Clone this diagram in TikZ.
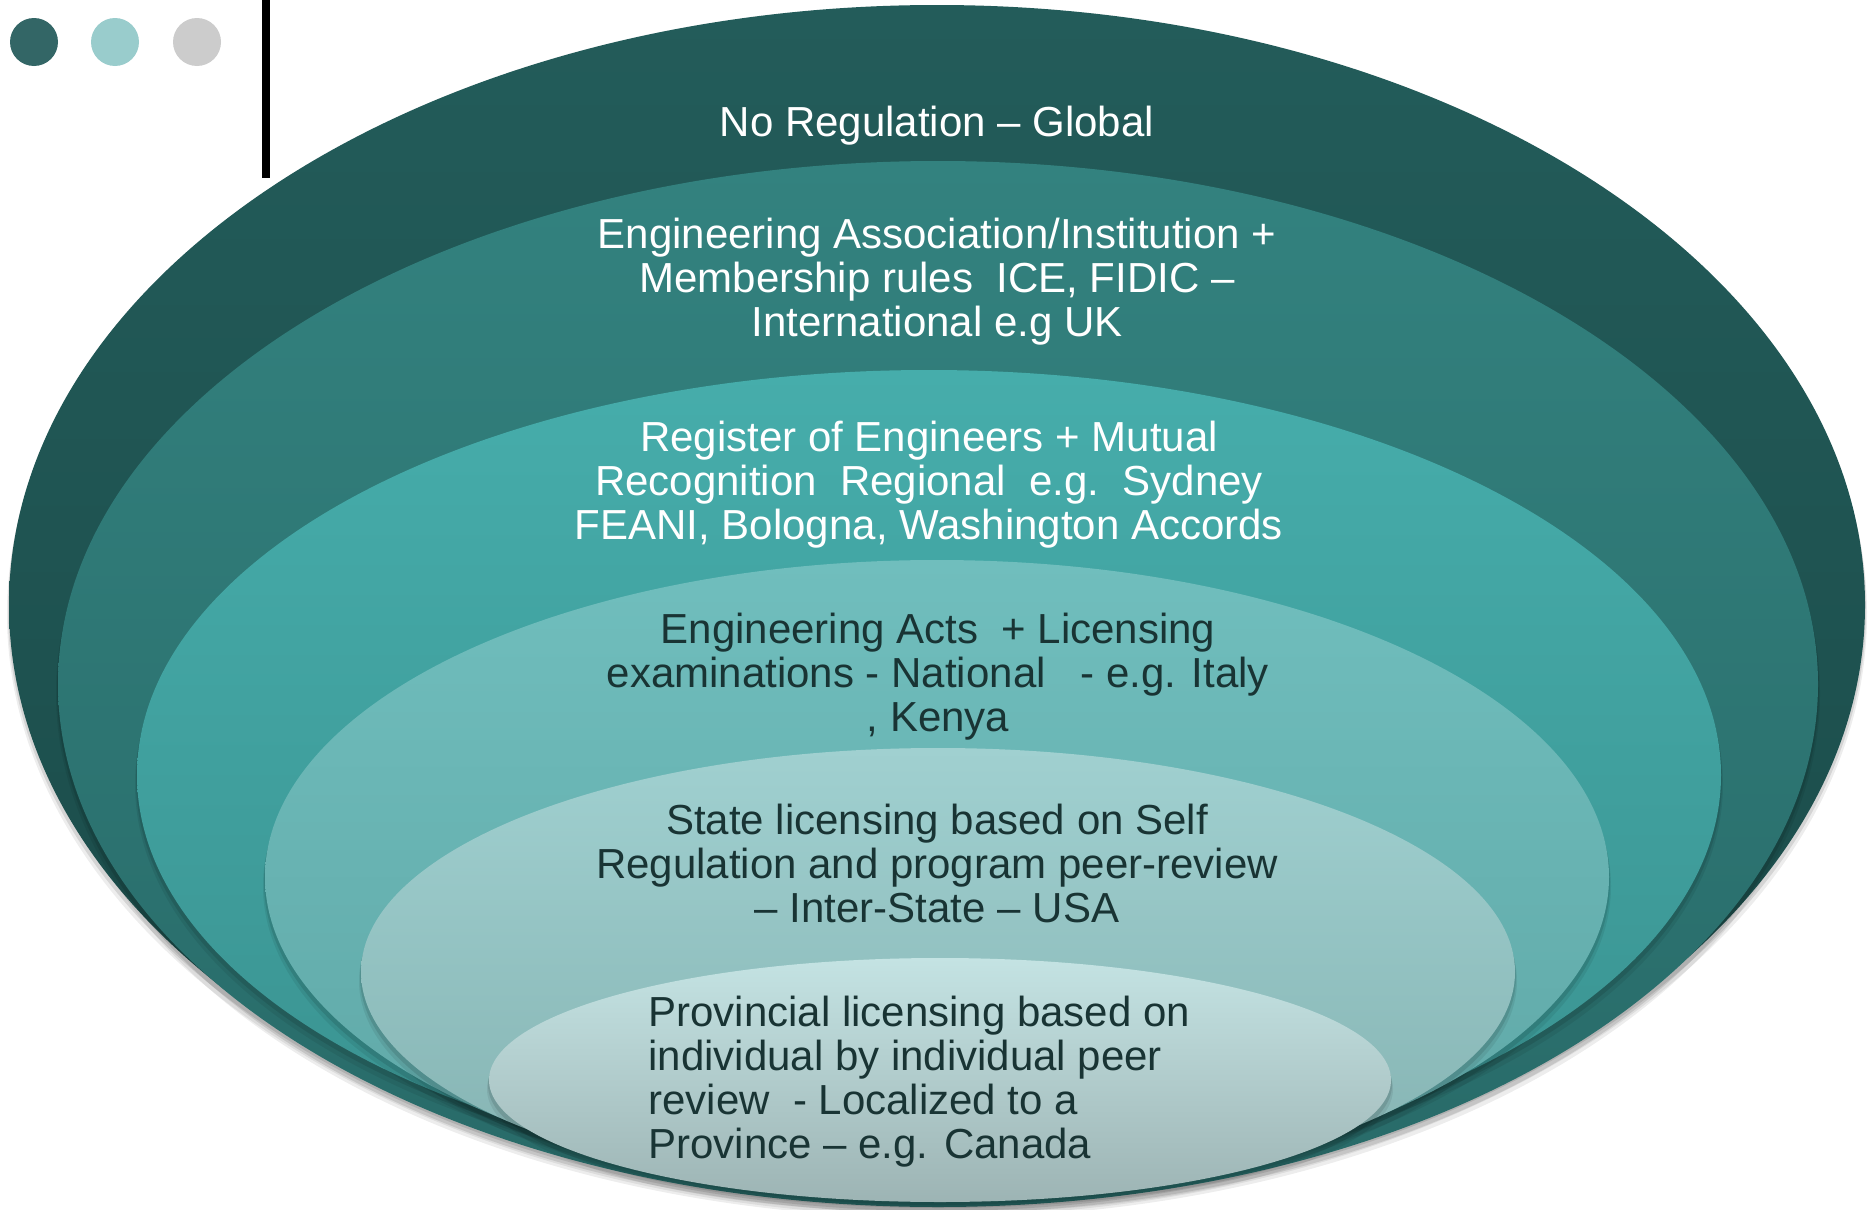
\documentclass[tikz,border=0pt]{standalone}
\usepackage{fontspec}
\setmainfont{Liberation Sans}
\definecolor{dotA}{HTML}{336666}
\definecolor{dotB}{HTML}{99CCCC}
\definecolor{dotC}{HTML}{CCCCCC}
\definecolor{txtdark}{HTML}{193434}
\definecolor{e1t}{HTML}{235C5A}
\definecolor{e1b}{HTML}{1A4A48}
\definecolor{e2t}{HTML}{33827F}
\definecolor{e2b}{HTML}{286A68}
\definecolor{e3t}{HTML}{46ADAB}
\definecolor{e3b}{HTML}{3A9290}
\definecolor{e4t}{HTML}{70BEBD}
\definecolor{e4b}{HTML}{5FA7A6}
\definecolor{e5t}{HTML}{A0D0D0}
\definecolor{e5b}{HTML}{84B2B1}
\definecolor{e6t}{HTML}{C4E3E3}
\definecolor{e6b}{HTML}{9DB4B4}
\tikzset{
  lbl/.style={align=center, font=\fontsize{21}{22}\selectfont, inner sep=0pt},
  lblw/.style={lbl, text=white},
  lbld/.style={lbl, text=txtdark},
  dot/.style={circle, minimum size=24pt, inner sep=0pt},
}
\newcommand{\shellipse}[7]{%
  \fill[black, opacity=0.07] (#1,#2+9) ellipse [x radius=#3+2, y radius=#4+2];
  \fill[black, opacity=0.10] (#1,#2+5) ellipse [x radius=#3+1, y radius=#4+1];
  \shade[top color=#5, bottom color=#6] (#1,#2) ellipse [x radius=#3, y radius=#4];
  \coordinate (#7) at (#1,#2);
}
\begin{document}
\begin{tikzpicture}[x=0.5pt, y=-0.5pt]
\useasboundingbox (0,0) rectangle (1870,1210);
\fill[white] (0,0) rectangle (1870,1210);
\begin{scope}
\clip (0,0) rectangle (1870,1210);
\shellipse{937}{605}{928}{600}{e1t}{e1b}{c1}
\shellipse{938}{684}{880}{523}{e2t}{e2b}{c2}
\shellipse{929}{775}{792}{405}{e3t}{e3b}{c3}
\shellipse{937}{877}{672}{317}{e4t}{e4b}{c4}
\shellipse{938}{972}{577}{224}{e5t}{e5b}{c5}
\shellipse{940}{1080}{451}{122}{e6t}{e6b}{c6}
\end{scope}
% decorative dots and bar
\node[dot, fill=dotA] (d1) at (34,42) {};
\node[dot, fill=dotB] (d2) at (115,42) {};
\node[dot, fill=dotC] (d3) at (197,42) {};
\fill[black] (262,0) rectangle (270,178);
% labels
\node[lblw] (t1) at (937,126) {No Regulation -- Global};
\node[lblw] (t2) at (937,282) {Engineering Association/Institution +\\Membership rules\ \ ICE, FIDIC --\\International e.g UK};
\node[lblw] (t3) at (929,485) {Register of Engineers + Mutual\\Recognition\ \ Regional\ \ e.g.\ \ Sydney\\FEANI, Bologna, Washington Accords};
\node[lbld] (t4) at (938,677) {Engineering Acts\ \ + Licensing\\examinations - National\ \ \ - e.g. Italy\\, Kenya};
\node[lbld] (t5) at (937,863) {State licensing based on Self\\Regulation and program peer-review\\-- Inter-State -- USA};
\node[lbld, align=left, anchor=west] (t6) at (648,1082) {Provincial licensing based on\\individual by individual peer\\review\ \ - Localized to a\\Province -- e.g. Canada};
\end{tikzpicture}
\end{document}
